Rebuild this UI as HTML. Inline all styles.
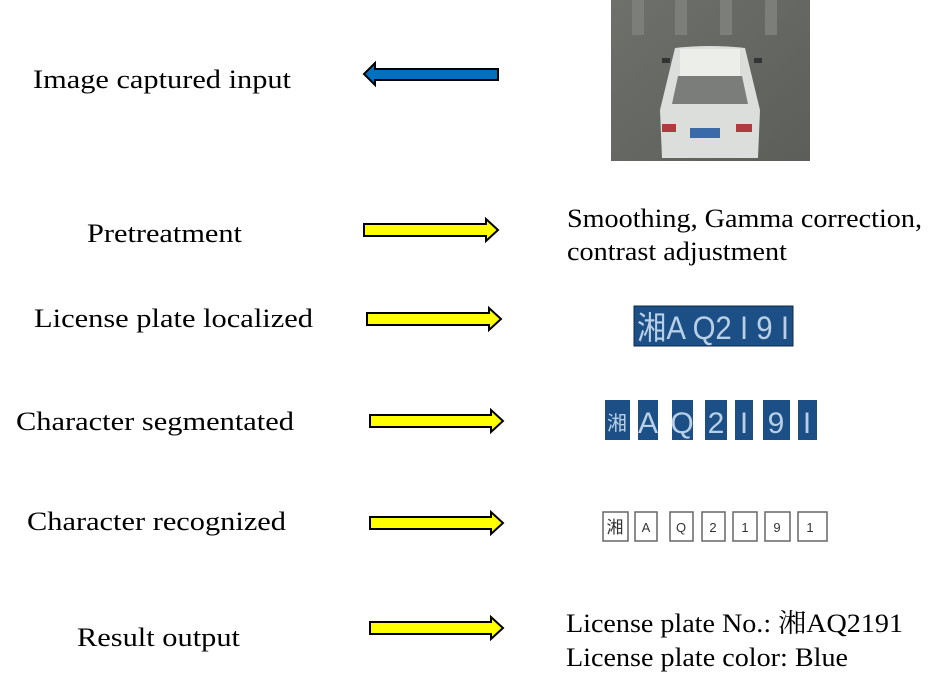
<!DOCTYPE html>
<html><head><meta charset="utf-8"><style>
html,body{margin:0;padding:0;background:#fff;}
svg{display:block}
text{font-family:"Liberation Serif","Noto Serif CJK SC",serif;font-size:26px;fill:#000}
text.s{font-family:"Liberation Sans","Noto Sans CJK SC",sans-serif;}
text.p{font-size:32px;fill:#b8cfe6}
text.g{font-size:30px;fill:#b8cfe6;text-anchor:middle}
text.r{font-size:13px;fill:#333;text-anchor:middle}
</style></head><body>
<svg width="942" height="695" viewBox="0 0 942 695" xmlns="http://www.w3.org/2000/svg">
<defs>
<linearGradient id="road" x1="0" y1="0" x2="1" y2="1"><stop offset="0" stop-color="#6e706b"/><stop offset="1" stop-color="#5c5e5a"/></linearGradient>
</defs>
<g>
<rect x="611" y="0" width="199" height="161" fill="url(#road)"/>
<rect x="632" y="0" width="12" height="35" fill="#7c7e79"/>
<rect x="675" y="0" width="12" height="35" fill="#7c7e79"/>
<rect x="720" y="0" width="12" height="35" fill="#7c7e79"/>
<rect x="765" y="0" width="12" height="35" fill="#7c7e79"/>
<path d="M675 48 Q710 44 745 48 L760 110 L758 158 L662 158 L660 110 Z" fill="#dcdedb"/>
<rect x="680" y="49" width="60" height="27" fill="#eceeea"/>
<path d="M678 76 L742 76 L748 104 L672 104 Z" fill="#7a7d7a"/>
<rect x="662" y="124" width="14" height="8" fill="#b03a40"/>
<rect x="736" y="124" width="16" height="8" fill="#b03a40"/>
<rect x="690" y="128" width="30" height="10" fill="#3b6aa8"/>
<rect x="662" y="58" width="8" height="5" fill="#333"/>
<rect x="754" y="58" width="8" height="5" fill="#333"/>
</g>
<path d="M498 69 L375 69 L375 63 L364 74 L375 85 L375 80 L498 80 Z" fill="#0070c0" stroke="#000" stroke-width="2"/>
<g fill="#ffff00" stroke="#000" stroke-width="2">
<path d="M364 224 L486 224 L486 219 L498 230 L486 241 L486 236 L364 236 Z"/>
<path d="M367 313 L489 313 L489 308 L501 319 L489 330 L489 325 L367 325 Z"/>
<path d="M370 415 L491 415 L491 410 L503 421 L491 432 L491 427 L370 427 Z"/>
<path d="M370 517 L491 517 L491 512 L503 523 L491 534 L491 529 L370 529 Z"/>
<path d="M370 622 L491 622 L491 617 L503 628 L491 639 L491 634 L370 634 Z"/>
</g>
<text x="33" y="88" textLength="258" lengthAdjust="spacingAndGlyphs">Image captured input</text>
<text x="87" y="242" textLength="155" lengthAdjust="spacingAndGlyphs">Pretreatment</text>
<text x="34" y="327" textLength="279" lengthAdjust="spacingAndGlyphs">License plate localized</text>
<text x="16" y="430" textLength="278" lengthAdjust="spacingAndGlyphs">Character segmentated</text>
<text x="27" y="530" textLength="259" lengthAdjust="spacingAndGlyphs">Character recognized</text>
<text x="77" y="646" textLength="163" lengthAdjust="spacingAndGlyphs">Result output</text>
<text x="567" y="227" textLength="355" lengthAdjust="spacingAndGlyphs">Smoothing, Gamma correction,</text>
<text x="567" y="260" textLength="220" lengthAdjust="spacingAndGlyphs">contrast adjustment</text>
<text x="566" y="632" textLength="337" lengthAdjust="spacingAndGlyphs">License plate No.: 湘AQ2191</text>
<text x="566" y="666" textLength="282" lengthAdjust="spacingAndGlyphs">License plate color: Blue</text>
<rect x="634" y="306" width="159" height="40" fill="#1c4f86" stroke="#0c2a4c" stroke-width="1"/>
<text class="s p" x="637" y="339" textLength="152" lengthAdjust="spacingAndGlyphs">湘A Q2 I 9 I</text>
<g fill="#1c4f86">
<rect x="605" y="400" width="25" height="40"/><rect x="638" y="400" width="20" height="40"/>
<rect x="672" y="400" width="21" height="40"/><rect x="705" y="400" width="22" height="40"/>
<rect x="735" y="400" width="18" height="40"/><rect x="763" y="400" width="27" height="40"/>
<rect x="798" y="400" width="19" height="40"/>
</g>
<text class="s g" x="617" y="430" style="font-size:20px">湘</text>
<text class="s g" x="648" y="433">A</text><text class="s g" x="682" y="433">Q</text>
<text class="s g" x="716" y="433">2</text><text class="s g" x="744" y="433">I</text>
<text class="s g" x="776" y="433">9</text><text class="s g" x="807" y="433">I</text>
<g fill="#fff" stroke="#666" stroke-width="1.5">
<rect x="603" y="512" width="25" height="29"/><rect x="635" y="512" width="22" height="29"/>
<rect x="670" y="512" width="23" height="29"/><rect x="702" y="512" width="23" height="29"/>
<rect x="733" y="512" width="24" height="29"/><rect x="765" y="512" width="25" height="29"/>
<rect x="798" y="512" width="29" height="29"/>
</g>
<text class="s r" x="615" y="533" style="font-size:17px">湘</text>
<text class="s r" x="646" y="532">A</text><text class="s r" x="681" y="532">Q</text>
<text class="s r" x="713" y="532">2</text><text class="s r" x="745" y="532">1</text>
<text class="s r" x="777" y="532">9</text><text class="s r" x="810" y="532">1</text>
</svg>
</body></html>
